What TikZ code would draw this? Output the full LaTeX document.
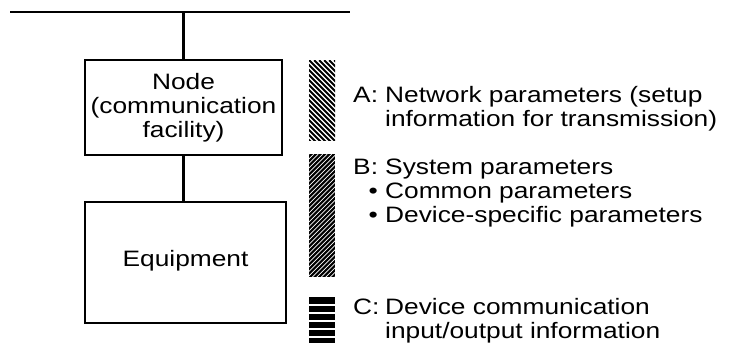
\documentclass[tikz,border=0pt]{standalone}
\usepackage{fontspec}
\setmainfont{Liberation Sans}[FakeStretch=1.18]
\usepackage{tikz}
\usetikzlibrary{calc}

\tikzset{
    txt/.style={font=\fontsize{22.3}{24}\selectfont, inner sep=0pt},
    wire/.style={line width=2.3pt},
    unit/.style={txt, draw, wire, align=center},
    bar/.style={minimum width=26pt, inner sep=0pt, anchor=north west},
    % hatched bars of the legend
    barA/.style={bar, path picture={
        \foreach \k in {0,...,30}
            \draw[line width=1.9pt] ($(path picture bounding box.north west)+(\k*5-110,0)$) -- ++(130,130);
    }},
    barB/.style={bar, fill=black, path picture={
        \foreach \k in {0,...,40}
            \draw[white, line width=0.8pt] ($(path picture bounding box.north west)+(\k*4.5,0)$) -- ++(-160,160);
    }},
    barC/.style={bar, fill=black, path picture={
        \foreach \k in {1,...,5}
            \draw[white, line width=1.8pt] ($(path picture bounding box.north west)+(0,\k*8-0.5)$) -- ++(30,0);
    }},
}

\begin{document}
\begin{tikzpicture}[x=1pt, y=-1pt]
    \useasboundingbox (0,0) rectangle (732,349);
    \coordinate (busL) at (10,12);
    \coordinate (busR) at (350,12);
    \node (node) [unit, minimum width=197pt, minimum height=95pt] at (183.5,107.5) {Node\\(communication\\facility)};
    \node (equip) [unit, minimum width=201pt, minimum height=121pt, text depth=8pt] at (185.5,262.5) {Equipment};
    \draw[wire] (busL) -- (busR);
    \draw[wire] (node.north) -- (node.north |- busL);
    \draw[wire] (node.south) -- (node.south |- equip.north);

    \node (barA) [barA, minimum height=80pt] at (309,60) {};
    \node (barB) [barB, minimum height=123pt] at (309,154) {};
    \node (barC) [barC, minimum height=46pt] at (309,297) {};

    % multi-line texts sit on the baseline of their last line
    \node (labA) [txt, anchor=base west] at (353,102) {A:};
    \node (textA) [txt, anchor=base west, align=left] at (385,126) {Network parameters (setup\\information for transmission)};
    \node (labB) [txt, anchor=base west] at (353,174) {B:};
    \node (textB) [txt, anchor=base west, align=left] at (385,222) {System parameters\\\llap{\textbullet\ }Common parameters\\\llap{\textbullet\ }Device-specific parameters};
    \node (labC) [txt, anchor=base west] at (353,314) {C:};
    \node (textC) [txt, anchor=base west, align=left] at (385,338) {Device communication\\input/output information};
\end{tikzpicture}
\end{document}
